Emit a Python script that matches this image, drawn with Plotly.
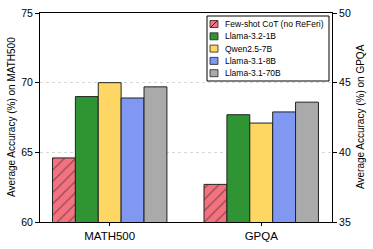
import plotly.graph_objects as go

categories = ["MATH500", "GPQA"]
models = ["Few-shot CoT (no ReFeri)", "Llama-3.2-1B", "Qwen2.5-7B", "Llama-3.1-8B", "Llama-3.1-70B"]
math500 = [64.6, 69.0, 70.0, 68.9, 69.7]
gpqa = [37.7, 42.7, 42.1, 42.9, 43.6]
colors = ["#f4727f", "#2f9433", "#fdd663", "#8098f2", "#aaaaaa"]
left_ticks = [60, 65, 70, 75]
right_ticks = [35, 40, 45, 50]

FONT = "Liberation Sans, Arial, sans-serif"
W, H = 373, 249
ML, MR, MT, MB = 40, 41, 13, 27
PW, PH = W - ML - MR, H - MT - MB


def px(x):
    return (x - ML) / PW


def py(y):
    return 1 - (y - MT) / PH


BW = 0.151
fig = go.Figure()
for i, m in enumerate(models):
    marker = dict(color=colors[i], line=dict(color="#222222", width=1))
    if i == 0:
        marker["pattern"] = dict(shape="/", fgcolor="#222222", size=8, solidity=0.15)
    off = (i - 2.5) * BW
    fig.add_trace(go.Bar(x=[0], y=[math500[i]], name=m, marker=marker, width=BW, offset=off,
                         showlegend=False, yaxis="y", hoverinfo="skip"))
    fig.add_trace(go.Bar(x=[1], y=[gpqa[i]], name=m, marker=marker, width=BW, offset=off,
                         showlegend=False, yaxis="y2", hoverinfo="skip"))

# custom legend
shapes = [dict(type="rect", xref="paper", yref="paper", x0=px(207), x1=px(329), y0=py(81), y1=py(16),
               line=dict(color="black", width=1), fillcolor="white", layer="above")]
annotations = []
for i, m in enumerate(models):
    yc = 24 + i * 12.3
    shapes.append(dict(type="rect", xref="paper", yref="paper", x0=px(210), x1=px(218),
                       y0=py(yc + 3.5), y1=py(yc - 3.5), fillcolor=colors[i],
                       line=dict(color="#222222", width=0.8), layer="above"))
    if i == 0:
        shapes.append(dict(type="line", xref="paper", yref="paper", x0=px(211), x1=px(217),
                           y0=py(yc + 3), y1=py(yc - 3), line=dict(color="#222222", width=1),
                           layer="above"))
    annotations.append(dict(text=m, xref="paper", yref="paper", x=px(223), y=py(yc),
                            xanchor="left", yanchor="middle", showarrow=False,
                            font=dict(size=8.5, family=FONT, color="black")))

# axis titles as rotated annotations
annotations.append(dict(text="Average Accuracy (%) on MATH500", xref="paper", yref="paper",
                        x=px(12), y=py(117), xanchor="center", yanchor="middle", textangle=-90,
                        showarrow=False, font=dict(size=10, family=FONT, color="black")))
annotations.append(dict(text="Average Accuracy (%) on GPQA", xref="paper", yref="paper",
                        x=px(361), y=py(117), xanchor="center", yanchor="middle", textangle=-90,
                        showarrow=False, font=dict(size=10, family=FONT, color="black")))

fig.update_layout(
    width=W, height=H,
    margin=dict(l=ML, r=MR, t=MT, b=MB, autoexpand=False),
    paper_bgcolor="white", plot_bgcolor="white",
    barmode="overlay",
    showlegend=False,
    font=dict(family=FONT, size=10, color="black"),
    xaxis=dict(tickvals=[0, 1], ticktext=categories, range=[-0.46, 1.467], automargin=False,
               showline=True, linecolor="black", linewidth=1, mirror=True,
               ticks="outside", ticklen=3, tickcolor="black",
               tickfont=dict(size=11.5), showgrid=False, zeroline=False),
    yaxis=dict(range=[60, 75], tickvals=left_ticks, showline=True, linecolor="black",
               linewidth=1, ticks="outside", ticklen=4, tickcolor="black", automargin=False,
               showgrid=True, gridcolor="#d8d8d8", griddash="dot", gridwidth=0.8,
               zeroline=False, tickfont=dict(size=10.5)),
    yaxis2=dict(range=[35, 50], tickvals=right_ticks, overlaying="y", side="right",
                showline=True, linecolor="black", linewidth=1, ticks="outside", ticklen=4,
                automargin=False,
                tickcolor="black", showgrid=False, zeroline=False, tickfont=dict(size=10.5)),
    shapes=shapes,
    annotations=annotations,
)
fig.write_html("out.html", config={"displayModeBar": False},
               post_script="document.body.style.margin='0px';document.body.style.overflow='hidden';")
